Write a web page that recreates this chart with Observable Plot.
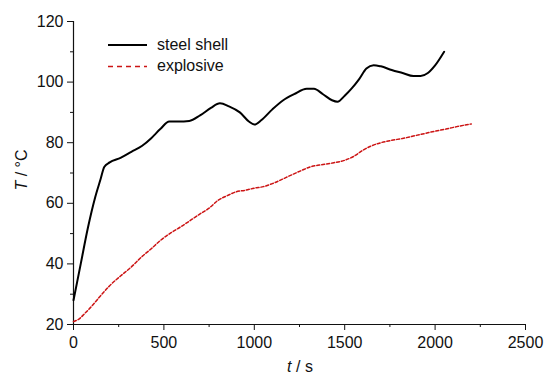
<!DOCTYPE html>
<html>
<head>
<meta charset="utf-8">
<script src="https://cdn.jsdelivr.net/npm/d3@7"></script>
<script src="https://cdn.jsdelivr.net/npm/@observablehq/plot@0.6"></script>
<style>
  html, body { margin: 0; padding: 0; background: #fff; }
</style>
</head>
<body>
<div id="chart"></div>
<script>
// Series: steel shell temperature (t in s, T in °C)
const steelT = [0, 40, 80, 120, 150, 170, 200, 260, 320, 380, 430, 480, 530, 580, 640, 700, 760, 810, 860, 920, 970, 1000, 1040, 1100, 1160, 1220, 1290, 1330, 1380, 1430, 1460, 1500, 1540, 1580, 1620, 1660, 1700, 1760, 1820, 1880, 1920, 1960, 2000, 2050];
const steelV = [28, 40, 52, 62, 68, 72, 73.5, 75, 77, 79, 81.5, 84.5, 87, 87, 87.2, 89, 91.5, 93, 92, 90, 87, 86, 87.5, 91, 94, 96, 97.8, 97.8, 96, 94, 93.5, 95.5, 98, 101, 104.5, 105.6, 105.2, 104, 103, 102, 102, 103, 105.5, 110];

// Series: explosive temperature
const explT = [0, 30, 60, 100, 150, 200, 260, 320, 380, 430, 480, 540, 600, 650, 700, 750, 800, 850, 900, 950, 1000, 1050, 1100, 1150, 1200, 1260, 1320, 1380, 1440, 1500, 1550, 1600, 1650, 1700, 1760, 1820, 1880, 1940, 2000, 2060, 2120, 2200];
const explV = [21, 21.8, 23.5, 26, 29.5, 32.8, 36, 39, 42.5, 45, 47.7, 50.3, 52.5, 54.5, 56.5, 58.4, 61, 62.5, 63.8, 64.3, 65, 65.5, 66.5, 67.8, 69.2, 70.8, 72.2, 72.8, 73.4, 74.2, 75.5, 77.5, 79, 80, 80.8, 81.4, 82.2, 83, 83.8, 84.5, 85.3, 86.2];

const seriesNames = ["steel shell", "explosive"];
const xMajor = [0, 500, 1000, 1500, 2000, 2500];
const xMinor = [250, 750, 1250, 1750, 2250];
const yMajor = [20, 40, 60, 80, 100, 120];
const yMinor = [30, 50, 70, 90, 110];

const steel = steelT.map((t, i) => ({t, T: steelV[i]}));
const expl = explT.map((t, i) => ({t, T: explV[i]}));

const font = "'Liberation Sans', Arial, sans-serif";

const svg = Plot.plot({
  width: 548,
  height: 377,
  marginLeft: 73,
  marginRight: 23,
  marginTop: 21,
  marginBottom: 53,
  style: {fontFamily: font, fontSize: "16px", color: "#111", background: "#fff"},
  x: {domain: [0, 2500]},
  y: {domain: [20, 120]},
  marks: [
    Plot.axisX(xMajor, {tickSize: 6, tickPadding: 6, label: null, tickFormat: d => String(d)}),
    Plot.axisX(xMinor, {tickSize: 3, label: null, tickFormat: () => ""}),
    Plot.axisY(yMajor, {tickSize: 6, tickPadding: 4, label: null, tickFormat: d => String(d)}),
    Plot.axisY(yMinor, {tickSize: 3, label: null, tickFormat: () => ""}),
    Plot.ruleX([0], {stroke: "#111", strokeWidth: 1.2}),
    Plot.ruleY([20], {stroke: "#111", strokeWidth: 1.2}),
    Plot.line(expl, {x: "t", y: "T", stroke: "#cc1414", strokeWidth: 1.5, strokeDasharray: "3,2", curve: "monotone-x"}),
    Plot.line(steel, {x: "t", y: "T", stroke: "#000", strokeWidth: 2, curve: "monotone-x"})
  ]
});

const s = d3.select(svg);
// axis titles
const yl = s.append("text")
  .attr("transform", "translate(27,170) rotate(-90)")
  .attr("text-anchor", "middle")
  .attr("font-family", font).attr("font-size", 16).attr("fill", "#111");
yl.append("tspan").attr("font-style", "italic").text("T");
yl.append("tspan").text(" / \u00B0C");

const xl = s.append("text")
  .attr("x", 300).attr("y", 372)
  .attr("text-anchor", "middle")
  .attr("font-family", font).attr("font-size", 16).attr("fill", "#111");
xl.append("tspan").attr("font-style", "italic").text("t");
xl.append("tspan").text(" / s");

// legend
const leg = s.append("g").attr("text-anchor", "start");
leg.append("line").attr("x1", 108).attr("x2", 147).attr("y1", 45).attr("y2", 45)
  .attr("stroke", "#000").attr("stroke-width", 2);
leg.append("text").attr("x", 157).attr("y", 50).attr("text-anchor", "start")
  .attr("font-family", font).attr("font-size", 16)
  .attr("fill", "#111").text(seriesNames[0]);
leg.append("line").attr("x1", 108).attr("x2", 147).attr("y1", 66.5).attr("y2", 66.5)
  .attr("stroke", "#cc1414").attr("stroke-width", 1.6).attr("stroke-dasharray", "5,4");
leg.append("text").attr("x", 157).attr("y", 71).attr("text-anchor", "start")
  .attr("font-family", font).attr("font-size", 16)
  .attr("fill", "#111").text(seriesNames[1]);

document.getElementById("chart").appendChild(svg);
</script>
</body>
</html>
